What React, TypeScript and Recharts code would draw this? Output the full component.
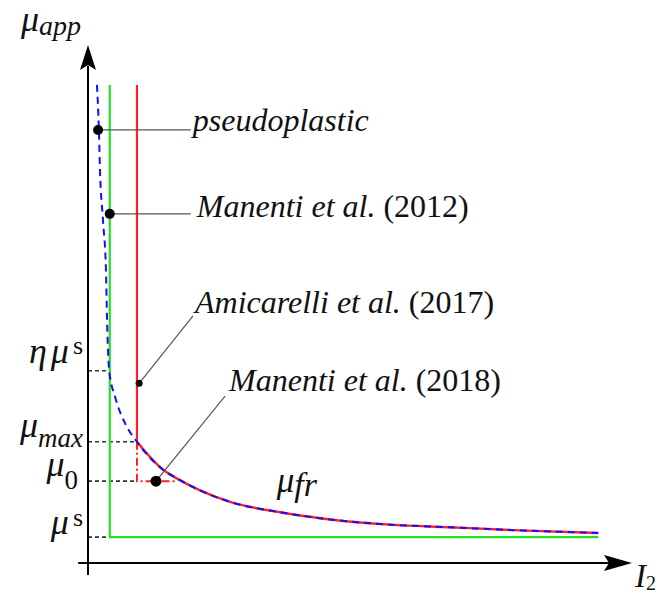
import {
  ComposedChart,
  Line,
  ReferenceDot,
  ReferenceLine,
  XAxis,
  YAxis,
} from "recharts";

// pseudoplastic curve (I2 vs mu_app, arbitrary units 0..100)
const curveI2 = [1.65, 2.0, 2.2, 2.75, 3.3, 3.5, 3.9, 5.0, 6.8, 9.0, 13.8, 16.9, 20.0, 26.1, 35.3, 44.5, 55.5, 66.5, 79.4, 93.8];
const curveMu = [92.3, 83.6, 75.9, 66.2, 56.6, 46.9, 37.1, 32.0, 27.0, 23.4, 18.0, 16.0, 14.3, 11.8, 9.8, 8.4, 7.4, 6.9, 6.3, 5.8];

// characteristic viscosity levels
const muS = 5.0;
const mu0 = 15.8;
const muMax = 23.4;
const etaMuS = 37.1;
const muTop = 92.3;

// characteristic I2 positions
const I2green = 4.0;
const I2red = 9.0;
const I2mu0End = 16.2;
const I2end = 93.8;

// annotations: dot on the model, end of the leader, text
const notes = [
  { dot: [1.85, 83.6], end: [18.9, 83.6], text: "pseudoplastic", year: "", dx: 2, dy: 1, r: 5 },
  { dot: [4.0, 67.4], end: [18.9, 67.4], text: "Manenti et al.", year: "(2012)", dx: 6, dy: 3, r: 5 },
  { dot: [9.4, 34.7], end: [19.3, 47.7], text: "Amicarelli et al.", year: "(2017)", dx: 2, dy: -3, r: 3.5 },
  { dot: [12.5, 15.8], end: [25.2, 32.2], text: "Manenti et al.", year: "(2018)", dx: 4, dy: -5, r: 5.5 },
];
const frLabelAt = [34.7, 13.7];

const pseudoData = curveI2.map((x, i) => ({ x, y: curveMu[i] }));
const frData = pseudoData.filter((p) => p.x >= I2red);
const greenData = [
  { x: I2green, y: muTop },
  { x: I2green, y: muS },
  { x: I2end, y: muS },
];
const redVert = [
  { x: I2red, y: muTop },
  { x: I2red, y: muMax },
];
const redDashDot = [
  { x: I2red, y: muMax },
  { x: I2red, y: mu0 },
  { x: I2mu0End, y: mu0 },
];
const guides = [
  { mu: etaMuS, to: I2green },
  { mu: muMax, to: I2red },
  { mu: mu0, to: I2red },
  { mu: muS, to: I2green },
];

const SERIF = { fontFamily: "'Liberation Serif', 'Times New Roman', serif" };
const BLUE = "#1010ff";
const RED = "#ff2020";
const GREEN = "#22e022";

function MuTick({ y, payload }: any) {
  const v = payload.value;
  const ax = 83;
  if (v === etaMuS)
    return (
      <text x={ax} y={y - 8} textAnchor="end" style={SERIF} fontSize={36} fill="#111">
        <tspan fontStyle="italic">η</tspan>
        <tspan fontStyle="italic" dx={4}>μ</tspan>
        <tspan fontSize={26} dx={4} dy={-9}>s</tspan>
      </text>
    );
  if (v === muMax)
    return (
      <text x={ax} y={y - 5} textAnchor="end" style={SERIF} fontSize={36} fill="#111">
        <tspan fontStyle="italic">μ</tspan>
        <tspan fontStyle="italic" fontSize={27} dy={10}>max</tspan>
      </text>
    );
  if (v === mu0)
    return (
      <text x={ax - 5} y={y - 5} textAnchor="end" style={SERIF} fontSize={36} fill="#111">
        <tspan fontStyle="italic">μ</tspan>
        <tspan fontSize={27} dy={13}>0</tspan>
      </text>
    );
  return (
    <text x={ax} y={y - 3} textAnchor="end" style={SERIF} fontSize={36} fill="#111">
      <tspan fontStyle="italic">μ</tspan>
      <tspan fontSize={26} dx={4} dy={-8}>s</tspan>
    </text>
  );
}

const yArrow = (p: any) => (
  <g>
    <polygon
      points={`${p.cx},${p.cy} ${p.cx - 8},${p.cy + 25} ${p.cx},${p.cy + 20} ${p.cx + 8},${p.cy + 25}`}
      fill="#000"
    />
    <text x={p.cx - 67} y={p.cy - 14} style={SERIF} fill="#111">
      <tspan fontSize={36} fontStyle="italic">μ</tspan>
      <tspan fontSize={28} fontStyle="italic" dy={4}>app</tspan>
    </text>
  </g>
);

const xArrow = (p: any) => (
  <g>
    <polygon
      points={`${p.cx},${p.cy} ${p.cx - 28},${p.cy - 8} ${p.cx - 23},${p.cy} ${p.cx - 28},${p.cy + 8}`}
      fill="#000"
    />
    <text x={p.cx + 3} y={p.cy + 24} style={SERIF} fill="#111">
      <tspan fontSize={33} fontStyle="italic">I</tspan>
      <tspan fontSize={20} dy={3}>2</tspan>
    </text>
  </g>
);

const noteText = (n: (typeof notes)[number]) => (p: any) => (
  <text x={p.cx + n.dx} y={p.cy + n.dy} style={SERIF} fontSize={32} fill="#111">
    <tspan fontStyle="italic">{n.text}</tspan>
    {n.year ? <tspan> {n.year}</tspan> : null}
  </text>
);

const frText = (p: any) => (
  <text x={p.cx} y={p.cy} style={SERIF} fill="#111" fontStyle="italic">
    <tspan fontSize={35}>μ</tspan>
    <tspan fontSize={34} dy={4}>fr</tspan>
  </text>
);

export default function App() {
  return (
    <div style={{ position: "absolute", left: 0, top: 0, background: "#fff", ...SERIF }}>
      <ComposedChart
        width={659}
        height={595}
        margin={{ top: 45, right: 27, bottom: 32, left: 0 }}
      >
        <XAxis dataKey="x" type="number" domain={[0, 100]} hide allowDataOverflow />
        <YAxis
          type="number"
          domain={[0, 100]}
          width={88}
          ticks={[muS, mu0, muMax, etaMuS]}
          interval={0}
          axisLine={false}
          tickLine={false}
          tick={<MuTick />}
          allowDataOverflow
        />

        {guides.map((g, i) => (
          <ReferenceLine
            key={i}
            segment={[
              { x: 0, y: g.mu },
              { x: g.to, y: g.mu },
            ]}
            stroke="#333"
            strokeWidth={1.6}
            strokeDasharray="4 3"
            ifOverflow="visible"
          />
        ))}

        <Line data={greenData} dataKey="y" type="linear" stroke={GREEN} strokeWidth={2.2} dot={false} isAnimationActive={false} />
        <Line data={redVert} dataKey="y" type="linear" stroke={RED} strokeWidth={2.2} dot={false} isAnimationActive={false} />
        <Line data={redDashDot} dataKey="y" type="linear" stroke={RED} strokeWidth={2} strokeDasharray="8 3 2 3" dot={false} isAnimationActive={false} />
        <Line data={frData} dataKey="y" type="monotone" stroke={RED} strokeWidth={2.4} dot={false} isAnimationActive={false} />
        <Line data={pseudoData} dataKey="y" type="monotone" stroke={BLUE} strokeWidth={2} strokeDasharray="7 5" dot={false} isAnimationActive={false} />

        {notes.map((n, i) => (
          <ReferenceLine
            key={"l" + i}
            segment={[
              { x: n.dot[0], y: n.dot[1] },
              { x: n.end[0], y: n.end[1] },
            ]}
            stroke="#555"
            strokeWidth={1.2}
            ifOverflow="visible"
          />
        ))}
        {notes.map((n, i) => (
          <ReferenceDot key={"d" + i} x={n.dot[0]} y={n.dot[1]} r={n.r} fill="#000" stroke="none" ifOverflow="visible" />
        ))}
        {notes.map((n, i) => (
          <ReferenceDot key={"t" + i} x={n.end[0]} y={n.end[1]} r={1} shape={noteText(n)} ifOverflow="visible" />
        ))}
        <ReferenceDot x={frLabelAt[0]} y={frLabelAt[1]} r={1} shape={frText} ifOverflow="visible" />

        {/* axes with arrows */}
        <ReferenceLine
          segment={[
            { x: 0, y: -2.3 },
            { x: 0, y: 96 },
          ]}
          stroke="#000"
          strokeWidth={2}
          ifOverflow="visible"
        />
        <ReferenceLine
          segment={[
            { x: -1.8, y: 0 },
            { x: 96, y: 0 },
          ]}
          stroke="#000"
          strokeWidth={2}
          ifOverflow="visible"
        />
        <ReferenceDot x={0} y={100} r={1} shape={yArrow} ifOverflow="visible" />
        <ReferenceDot x={100} y={0} r={1} shape={xArrow} ifOverflow="visible" />
      </ComposedChart>
    </div>
  );
}
